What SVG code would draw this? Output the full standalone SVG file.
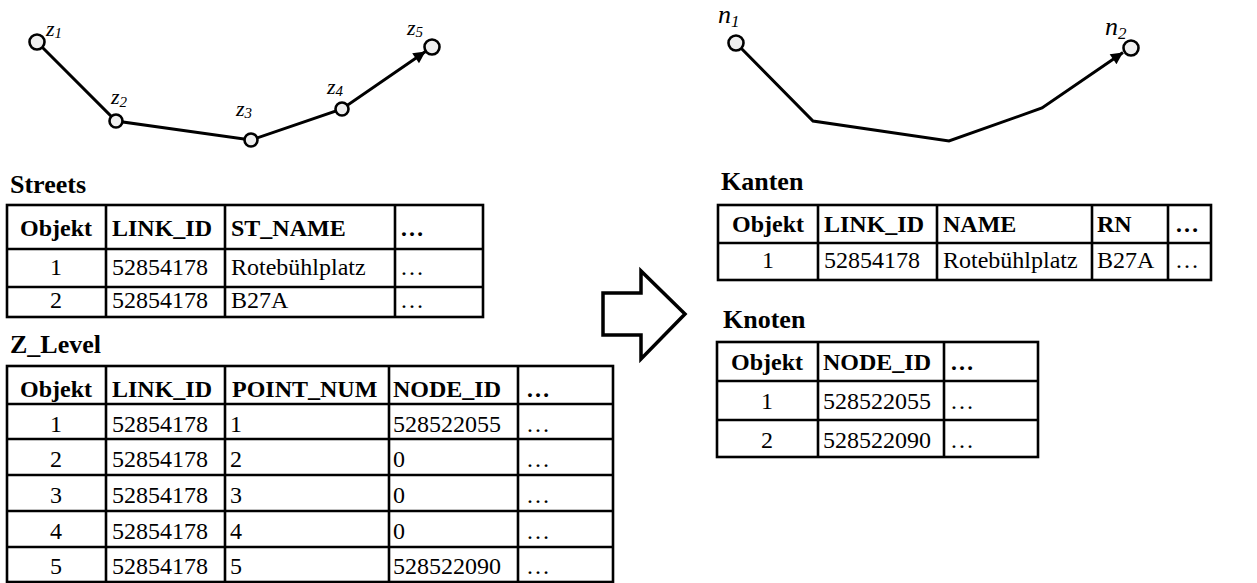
<svg xmlns="http://www.w3.org/2000/svg" width="1257" height="583" viewBox="0 0 1257 583">
<style>
.t{font-family:"Liberation Serif","Times New Roman",serif;font-size:24px;fill:#000}
.b{font-weight:bold}
.ti{font-family:"Liberation Serif","Times New Roman",serif;font-size:26px;font-weight:bold;fill:#000}
.c{text-anchor:middle}
.g{fill:none;stroke:#000;stroke-width:2.6}
.lab{font-family:"Liberation Serif","Times New Roman",serif;font-style:italic;font-size:22px;fill:#000}
.sub{font-size:15px}
.nlab{font-family:"Liberation Serif","Times New Roman",serif;font-style:italic;font-size:26px;fill:#000}
.nsub{font-size:17px}
.pt{fill:#efefef;stroke:#000;stroke-width:2.6}
.edge{fill:none;stroke:#000;stroke-width:3;stroke-linejoin:miter}
</style>
<defs>
<marker id="ah" viewBox="0 0 10 10" refX="10" refY="5" markerWidth="4.5" markerHeight="4" markerUnits="strokeWidth" orient="auto">
<path d="M0,0 L10,5 L0,10 z" fill="#000"/>
</marker>
</defs>

<g id="connectors">
<polyline class="edge" points="37,42 116,121 251,140 342,109 425.5,51.5" marker-end="url(#ah)"/>
<polyline class="edge" points="736,43 813,121 949,141 1042,108 1123,52.5" marker-end="url(#ah)"/>
</g>

<g id="z1"><circle class="pt" cx="37" cy="42" r="7.5"/><text class="lab" x="46" y="36">z<tspan class="sub" dy="2">1</tspan></text></g>
<g id="z2"><circle class="pt" cx="116" cy="121" r="6.5"/><text class="lab" x="111" y="104">z<tspan class="sub" dy="3">2</tspan></text></g>
<g id="z3"><circle class="pt" cx="251" cy="140" r="6.5"/><text class="lab" x="236" y="116">z<tspan class="sub" dy="2">3</tspan></text></g>
<g id="z4"><circle class="pt" cx="342" cy="109" r="6.5"/><text class="lab" x="327" y="94">z<tspan class="sub" dy="2">4</tspan></text></g>
<g id="z5"><circle class="pt" cx="432" cy="47" r="7.5"/><text class="lab" x="407" y="35">z<tspan class="sub" dy="2">5</tspan></text></g>

<g id="n1"><circle class="pt" cx="736" cy="43" r="7.5"/><text class="nlab" x="718" y="23">n<tspan class="nsub" dy="4">1</tspan></text></g>
<g id="n2"><circle class="pt" cx="1131" cy="48" r="7.5"/><text class="nlab" x="1105" y="35">n<tspan class="nsub" dy="4">2</tspan></text></g>

<g id="arrow">
<polygon points="603,293 641,293 641,271 685,314 641,359 641,335 603,335" fill="#fff" stroke="#000" stroke-width="3.5" stroke-linejoin="miter"/>
</g>

<g id="streets">
<text class="ti" x="10" y="193">Streets</text>
<rect class="g" x="7" y="205" width="476" height="112"/>
<path class="g" d="M7,249H483M7,287H483M106,205V317M225,205V317M395,205V317"/>
<text class="t b c" x="56" y="236">Objekt</text>
<text class="t b" x="112" y="236">LINK_ID</text>
<text class="t b" x="231" y="236">ST_NAME</text>
<text class="t b" x="400" y="236">…</text>
<text class="t c" x="56" y="275">1</text>
<text class="t" x="112" y="275">52854178</text>
<text class="t" x="231" y="275">Rotebühlplatz</text>
<text class="t" x="400" y="275">…</text>
<text class="t c" x="56" y="308">2</text>
<text class="t" x="112" y="308">52854178</text>
<text class="t" x="231" y="308">B27A</text>
<text class="t" x="400" y="308">…</text>
</g>

<g id="z_level">
<text class="ti" x="10" y="353">Z_Level</text>
<rect class="g" x="7" y="366" width="606" height="216"/>
<path class="g" d="M7,404H613M7,439H613M7,475H613M7,511H613M7,547H613M106,366V582M225,366V582M389,366V582M518,366V582"/>
<text class="t b c" x="56" y="397">Objekt</text>
<text class="t b" x="112" y="397">LINK_ID</text>
<text class="t b" x="232" y="397">POINT_NUM</text>
<text class="t b" x="393" y="397">NODE_ID</text>
<text class="t b" x="526" y="397">…</text>
<text class="t c" x="56" y="432">1</text><text class="t" x="112" y="432">52854178</text><text class="t" x="230" y="432">1</text><text class="t" x="393" y="432">528522055</text><text class="t" x="526" y="432">…</text>
<text class="t c" x="56" y="467">2</text><text class="t" x="112" y="467">52854178</text><text class="t" x="230" y="467">2</text><text class="t" x="393" y="467">0</text><text class="t" x="526" y="467">…</text>
<text class="t c" x="56" y="503">3</text><text class="t" x="112" y="503">52854178</text><text class="t" x="230" y="503">3</text><text class="t" x="393" y="503">0</text><text class="t" x="526" y="503">…</text>
<text class="t c" x="56" y="539">4</text><text class="t" x="112" y="539">52854178</text><text class="t" x="230" y="539">4</text><text class="t" x="393" y="539">0</text><text class="t" x="526" y="539">…</text>
<text class="t c" x="56" y="574">5</text><text class="t" x="112" y="574">52854178</text><text class="t" x="230" y="574">5</text><text class="t" x="393" y="574">528522090</text><text class="t" x="526" y="574">…</text>
</g>

<g id="kanten">
<text class="ti" x="721" y="190">Kanten</text>
<rect class="g" x="718" y="205" width="493" height="75"/>
<path class="g" d="M718,243H1211M818,205V280M937,205V280M1092,205V280M1168,205V280"/>
<text class="t b c" x="768" y="232">Objekt</text>
<text class="t b" x="824" y="232">LINK_ID</text>
<text class="t b" x="943" y="232">NAME</text>
<text class="t b" x="1097" y="232">RN</text>
<text class="t b" x="1175" y="232">…</text>
<text class="t c" x="768" y="268">1</text>
<text class="t" x="824" y="268">52854178</text>
<text class="t" x="943" y="268">Rotebühlplatz</text>
<text class="t" x="1097" y="268">B27A</text>
<text class="t" x="1175" y="268">…</text>
</g>

<g id="knoten">
<text class="ti" x="723" y="328">Knoten</text>
<rect class="g" x="717" y="342" width="321" height="115"/>
<path class="g" d="M717,381H1038M717,420H1038M818,342V457M944,342V457"/>
<text class="t b c" x="767" y="370">Objekt</text>
<text class="t b" x="823" y="370">NODE_ID</text>
<text class="t b" x="950" y="370">…</text>
<text class="t c" x="767" y="409">1</text>
<text class="t" x="823" y="409">528522055</text>
<text class="t" x="950" y="409">…</text>
<text class="t c" x="767" y="448">2</text>
<text class="t" x="823" y="448">528522090</text>
<text class="t" x="950" y="448">…</text>
</g>
</svg>
